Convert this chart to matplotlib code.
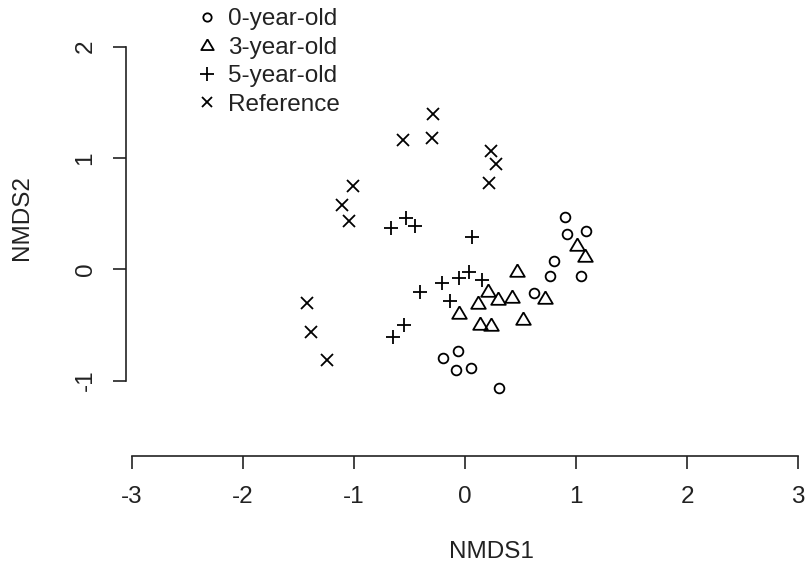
import numpy as np
import matplotlib.pyplot as plt
from matplotlib.lines import Line2D

plt.rcParams['font.family'] = ['Liberation Sans', 'DejaVu Sans']

# NMDS scores
x0 = [0.901, 0.916, 1.087, 0.805, 0.766, 1.042, 0.622, -0.195, -0.066, -0.081, 0.054, 0.309]
y0 = [0.473, 0.317, 0.344, 0.077, -0.060, -0.060, -0.216, -0.800, -0.734, -0.905, -0.884, -1.069]

x3 = [1.012, 1.081, 0.466, 0.210, 0.120, 0.295, 0.426, 0.721, -0.051, 0.135, 0.234, 0.520]
y3 = [0.218, 0.119, -0.013, -0.192, -0.300, -0.270, -0.252, -0.261, -0.390, -0.491, -0.500, -0.449]

x5 = [-0.667, -0.532, -0.450, 0.059, -0.405, -0.210, -0.050, 0.032, 0.153, -0.135, -0.550, -0.646]
y5 = [0.371, 0.458, 0.389, 0.288, -0.201, -0.120, -0.075, -0.022, -0.096, -0.282, -0.500, -0.611]

xr = [-0.286, -0.561, -0.300, 0.232, 0.279, 0.219, -1.012, -1.111, -1.042, -1.421, -1.390, -1.246]
yr = [1.396, 1.162, 1.177, 1.066, 0.946, 0.773, 0.748, 0.578, 0.437, -0.305, -0.561, -0.815]

labels = ["0-year-old", "3-year-old", "5-year-old", "Reference"]
xticks = [-3, -2, -1, 0, 1, 2, 3]
yticks = [-1, 0, 1, 2]

# equilateral triangle like R's pch = 2
tri = [(0, 0.6), (-0.62, -0.45), (0.62, -0.45), (0, 0.6)]

fig = plt.figure(figsize=(8.06, 5.76), dpi=100)
ax = fig.add_axes([0, 0, 1, 1])
ax.set_xlim(-4.189, 3.072)
ax.set_ylim(-2.7556, 2.4196)
ax.patch.set_alpha(0)

ms = dict(linestyle='none', color='black', mfc='none', mew=1.3)
ax.plot(x0, y0, marker='o', ms=7, **ms)
ax.plot(x3, y3, marker=tri, ms=10.5, **ms)
ax.plot(x5, y5, marker='+', ms=10.5, **ms)
ax.plot(xr, yr, marker='x', ms=9, **ms)

# R style axes, detached from the points
for s in ['top', 'right']:
    ax.spines[s].set_visible(False)
ax.spines['left'].set_position(('data', -3.05))
ax.spines['left'].set_bounds(-1, 2)
ax.spines['bottom'].set_position(('data', -1.675))
ax.spines['bottom'].set_bounds(-3, 3)
for s in ['left', 'bottom']:
    ax.spines[s].set_linewidth(1.2)
    ax.spines[s].set_color('#222222')

ax.set_xticks(xticks)
ax.set_xticklabels([str(v) for v in xticks])
ax.set_yticks(yticks)
ax.set_yticklabels([str(v) for v in yticks], rotation=90, va='center')
ax.tick_params(axis='both', direction='out', length=9.5, width=1.2,
               color='#222222', labelsize=17.5, labelcolor='#222222')
ax.tick_params(axis='x', pad=12)
ax.tick_params(axis='y', pad=12)

fig.text(491 / 806, 1 - 552 / 576, "NMDS1", ha='center', va='center',
         fontsize=17.5, color='#222222')
fig.text(22 / 806, 1 - 218 / 576, "NMDS2", ha='center', va='center',
         rotation=90, fontsize=17.5, color='#222222')

handles = [
    Line2D([], [], marker='o', ms=6, **ms),
    Line2D([], [], marker=tri, ms=9, **ms),
    Line2D([], [], marker='+', ms=9.5, **ms),
    Line2D([], [], marker='x', ms=7.5, **ms),
]
ax.legend(handles, labels, loc='upper left', bbox_to_anchor=(195 / 806, 1 - 8 / 576),
          frameon=False, fontsize=17.5, handlelength=1.0, handletextpad=0.35,
          labelspacing=0.27, borderpad=0, borderaxespad=0, labelcolor='#222222')

fig.savefig("out.png", dpi=100)
